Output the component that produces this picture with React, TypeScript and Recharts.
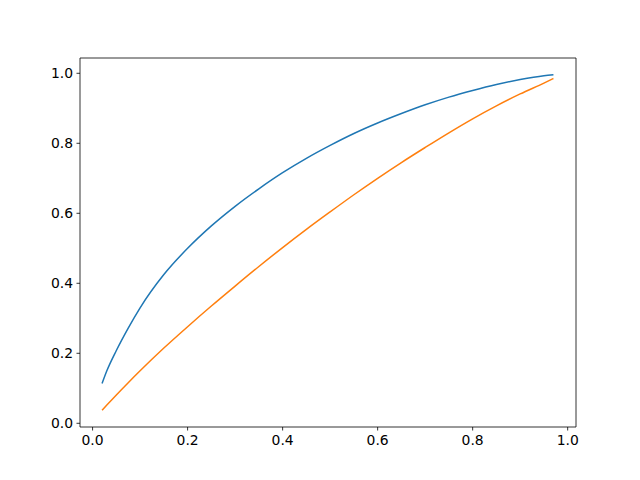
import React from 'react';
import { LineChart, Line, XAxis, YAxis, ReferenceLine } from 'recharts';

const xs = [0.02, 0.03, 0.05, 0.075, 0.1, 0.15, 0.2, 0.25, 0.3, 0.35, 0.4, 0.45, 0.5, 0.55, 0.6, 0.65, 0.7, 0.75, 0.8, 0.85, 0.9, 0.95, 0.97];
const blueValues = [0.114, 0.150, 0.208, 0.272, 0.330, 0.425, 0.500, 0.564, 0.620, 0.670, 0.716, 0.757, 0.794, 0.828, 0.858, 0.885, 0.910, 0.932, 0.951, 0.968, 0.982, 0.993, 0.996];
const orangeValues = [0.037, 0.052, 0.081, 0.116, 0.150, 0.215, 0.276, 0.335, 0.392, 0.448, 0.502, 0.554, 0.604, 0.653, 0.700, 0.745, 0.788, 0.830, 0.870, 0.907, 0.941, 0.972, 0.985];
const xTicks = [0, 0.2, 0.4, 0.6, 0.8, 1.0];
const yTicks = [0, 0.2, 0.4, 0.6, 0.8, 1.0];

const data = xs.map((x, i) => ({ x, blue: blueValues[i], orange: orangeValues[i] }));

const X_DOMAIN: [number, number] = [-0.0265, 1.0175];
const Y_DOMAIN: [number, number] = [-0.0106, 1.0437];

const tickStyle = { fontSize: 13.9, fill: '#000', fontFamily: 'DejaVu Sans' };
const axisLine = { stroke: '#000', strokeWidth: 0.8 };
const tickLine = { stroke: '#000', strokeWidth: 0.8 };

export default function App() {
  return (
    <div style={{ position: 'absolute', left: 0, top: 0, width: 640, height: 480, background: '#fff' }}>
      <LineChart width={640} height={480} data={data} margin={{ top: 58, right: 64, bottom: 0, left: 0 }}>
        <XAxis
          dataKey="x"
          type="number"
          domain={X_DOMAIN}
          ticks={xTicks}
          tickFormatter={(v: number) => v.toFixed(1)}
          height={53}
          tickSize={3.5}
          tickMargin={4.5}
          tick={tickStyle}
          axisLine={axisLine}
          tickLine={tickLine}
          allowDataOverflow
          interval={0}
        />
        <YAxis
          type="number"
          domain={Y_DOMAIN}
          ticks={yTicks}
          tickFormatter={(v: number) => v.toFixed(1)}
          width={80}
          tickSize={3.5}
          tickMargin={3.5}
          tick={tickStyle}
          axisLine={axisLine}
          tickLine={tickLine}
          allowDataOverflow
          interval={0}
        />
        <ReferenceLine y={Y_DOMAIN[1]} stroke="#000" strokeWidth={0.8} ifOverflow="visible" />
        <ReferenceLine x={X_DOMAIN[1]} stroke="#000" strokeWidth={0.8} ifOverflow="visible" />
        <Line dataKey="blue" type="monotone" stroke="#1f77b4" strokeWidth={1.5} dot={false} isAnimationActive={false} />
        <Line dataKey="orange" type="monotone" stroke="#ff7f0e" strokeWidth={1.5} dot={false} isAnimationActive={false} />
      </LineChart>
    </div>
  );
}
